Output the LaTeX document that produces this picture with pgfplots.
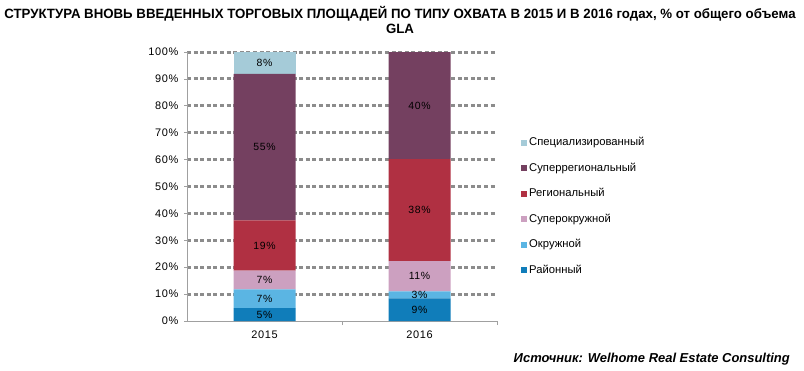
\documentclass[border=0pt]{standalone}
\usepackage{fontspec}
\setmainfont{Liberation Sans}
\newfontfamily\titlefont[FakeStretch=0.985]{Liberation Sans}
\newfontfamily\tickfont[LetterSpace=6]{Liberation Sans}
\usepackage{pgfplots}
\usepackage{pgfplotstable}
\pgfplotsset{compat=1.18}
\definecolor{cRay}{HTML}{107DBA}
\definecolor{cOkr}{HTML}{5BB5E3}
\definecolor{cSOkr}{HTML}{CCA0C0}
\definecolor{cReg}{HTML}{B03042}
\definecolor{cSReg}{HTML}{744060}
\definecolor{cSpec}{HTML}{A5CBD8}
\definecolor{cGrid}{HTML}{8C8C8C}
\definecolor{cAxis}{HTML}{A0A0A0}
% segment values (% of GLA)
\pgfplotstableread{
x y
0 4.8
1 8.4
}\tRay
\pgfplotstableread{
x y
0 7.0
1 2.6
}\tOkr
\pgfplotstableread{
x y
0 6.9
1 11.3
}\tSOkr
\pgfplotstableread{
x y
0 18.7
1 37.9
}\tReg
\pgfplotstableread{
x y
0 54.5
1 39.8
}\tSReg
\pgfplotstableread{
x y
0 8.1
}\tSpec
% label positions (segment midpoints) and printed labels
\pgfplotstableread{
x y lab
0 2.4 5
0 8.3 7
0 15.25 7
0 28.05 19
0 64.65 55
0 95.95 8
1 4.2 9
1 9.7 3
1 16.65 11
1 41.25 38
1 80.1 40
}\tLab
\begin{document}
\begin{tikzpicture}
\useasboundingbox (0bp,0bp) rectangle (804bp,-371bp);
\node[font=\titlefont\bfseries\fontsize{13.5}{15}\selectfont, align=center, anchor=north, inner sep=0pt] at (400bp,-6bp) {СТРУКТУРА ВНОВЬ ВВЕДЕННЫХ ТОРГОВЫХ ПЛОЩАДЕЙ ПО ТИПУ ОХВАТА В 2015 И В 2016 годах, \% от общего объема\\GLA};
\begin{axis}[
  at={(187bp,-321bp)}, anchor=south west,
  scale only axis, width=310bp, height=269bp,
  xmin=-0.5, xmax=1.5, ymin=0, ymax=100,
  ybar stacked, bar width=62bp,
  axis lines*=left,
  axis line style={cAxis, line width=0.8pt},
  xtick={0,1}, xticklabels={2015,2016},
  xtick style={draw=none},
  extra x ticks={0.5,1.5}, extra x tick labels={},
  extra x tick style={grid=none, xtick style={draw=cAxis, line width=0.8pt}, major tick length=4bp, tick align=outside},
  ytick={10,20,...,100},
  extra y ticks={0},
  extra y tick style={grid=none},
  yticklabel={\pgfmathprintnumber{\tick}\%},
  ytick style={draw=cAxis, line width=0.8pt}, major tick length=3bp, tick align=outside,
  /pgf/number format/assume math mode=true,
  ticklabel style={font=\tickfont\fontsize{11}{13}\selectfont},
  yticklabel style={xshift=-2bp},
  xticklabel style={yshift=-3bp},
  ymajorgrids,
  grid style={cGrid, line width=3bp, dash pattern=on 4bp off 2.6bp},
  reverse legend,
  legend image code/.code={\fill[#1] (0bp,-3bp) rectangle (6bp,3bp);},
  legend style={at={(1,1)}, anchor=north west, xshift=24bp, yshift=-86bp, draw=none, fill=none, font=\fontsize{11.3}{13}\selectfont, row sep=16bp, inner sep=0pt, nodes={inner xsep=2bp, inner ysep=0pt, text height=7.5bp, text depth=2bp}},
  legend cell align=left,
]
\addplot[draw=none, fill=cRay] table[x=x, y=y] {\tRay};
\addlegendentry{Районный}
\addplot[draw=none, fill=cOkr] table[x=x, y=y] {\tOkr};
\addlegendentry{Окружной}
\addplot[draw=none, fill=cSOkr] table[x=x, y=y] {\tSOkr};
\addlegendentry{Суперокружной}
\addplot[draw=none, fill=cReg] table[x=x, y=y] {\tReg};
\addlegendentry{Региональный}
\addplot[draw=none, fill=cSReg] table[x=x, y=y] {\tSReg};
\addlegendentry{Суперрегиональный}
\addplot[draw=none, fill=cSpec] table[x=x, y=y] {\tSpec};
\addlegendentry{Специализированный}
\end{axis}
\begin{axis}[
  at={(187bp,-321bp)}, anchor=south west,
  scale only axis, width=310bp, height=269bp,
  xmin=-0.5, xmax=1.5, ymin=0, ymax=100,
  hide axis,
]
\addplot[only marks, mark=none, point meta=explicit symbolic,
  nodes near coords={\pgfplotspointmeta\%},
  every node near coord/.append style={anchor=center, font=\tickfont\fontsize{10.5}{12}\selectfont, text=black}]
  table[x=x, y=y, meta=lab] {\tLab};
\end{axis}
\node[font=\bfseries\itshape\fontsize{13}{15}\selectfont, anchor=base east, inner sep=0pt] at (790bp,-362bp) {Источник: Welhome Real Estate Consulting};
\end{tikzpicture}
\end{document}
